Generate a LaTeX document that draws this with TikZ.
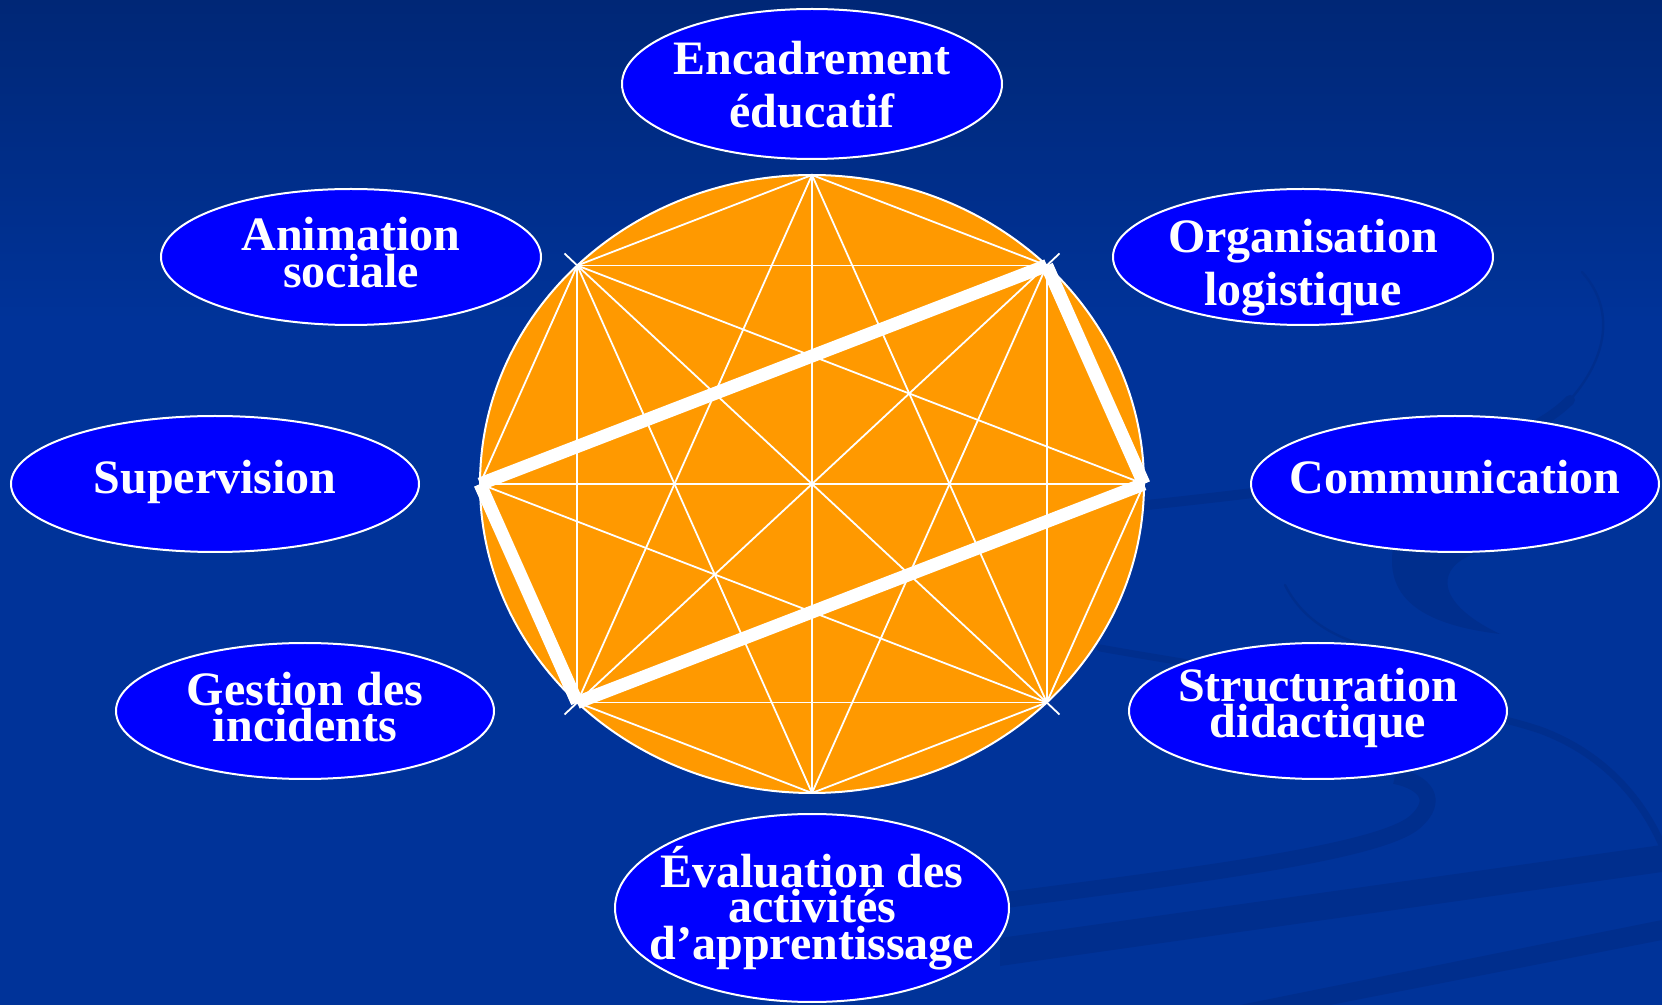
\documentclass[tikz,border=0pt]{standalone}
\usepackage{fontspec}
\setmainfont{Liberation Serif}
\usetikzlibrary{shapes.geometric}
\definecolor{bg}{RGB}{0,51,153}
\definecolor{bgtop}{RGB}{0,39,118}
\definecolor{swirl}{RGB}{0,46,141}
\definecolor{pillblue}{RGB}{0,0,255}
\definecolor{discorange}{RGB}{255,153,0}
\begin{document}
\begin{tikzpicture}[x=0.5pt,y=-0.5pt,
  pill/.style={ellipse, draw=white, line width=1pt, fill=pillblue, inner sep=0pt},
  lbl/.style={text=white, font=\fontsize{24}{28}\selectfont\bfseries, inner sep=0pt, anchor=base},
  thinline/.style={white, line width=0.9pt},
  thickline/.style={white, line width=6.5pt, line cap=butt},
  swirlband/.style={draw=swirl, line cap=round},
]
% background
\path[use as bounding box] (0,0) rectangle (1662,1005);
\fill[bg] (0,0) rectangle (1662,1005);
\shade[top color=bgtop, bottom color=bg] (0,0) rectangle (1662,320);

% background swirls
\draw[swirlband, line width=5pt] (1120,508) .. controls (1300,488) and (1500,470) .. (1570,400);
\draw[swirlband, line width=1.2pt] (1570,400) .. controls (1612,352) and (1612,305) .. (1582,272);
\fill[swirl] (1393,548) .. controls (1385,600) and (1425,625) .. (1500,634)
  .. controls (1460,615) and (1440,592) .. (1450,572)
  .. controls (1458,558) and (1475,552) .. (1495,550) -- cycle;
\draw[swirlband, line width=1.2pt] (1285,585) .. controls (1300,615) and (1330,640) .. (1385,650);
\draw[swirlband, line width=3.5pt] (1100,648) .. controls (1250,675) and (1450,700) .. (1540,730)
  .. controls (1600,752) and (1640,795) .. (1662,845);
\draw[swirlband, line width=8pt, line cap=butt] (990,902) .. controls (1200,875) and (1380,852) .. (1415,822)
  .. controls (1440,800) and (1425,782) .. (1395,776);
\fill[swirl] (1000,938) -- (1662,845) -- (1662,872) -- (1000,966) -- cycle;
\fill[swirl] (1240,1005) -- (1662,920) -- (1662,940) -- (1330,1005) -- cycle;

% central disc
\node[ellipse, draw=white, line width=1pt, fill=discorange, inner sep=0pt,
      minimum width=332pt, minimum height=309pt] (disc) at (812,484) {};
\foreach \k in {0,...,7}
  \coordinate (v\k) at ({812+332*cos(45*\k)},{484-309*sin(45*\k)});
\foreach \a/\b in {2/3,2/1,3/4,5/6,6/7,7/0,3/1,5/7,4/0,3/5,1/7,2/6,3/7,1/5,2/5,2/7,6/3,6/1,4/7,0/3}
  \draw[thinline] (v\a) -- (v\b);
\foreach \k in {1,3,5,7} {
  \coordinate (t\k) at ({812+350*cos(45*\k)},{484-326*sin(45*\k)});
  \draw[thinline] (v\k) -- (t\k);
}
\draw[thickline] (v4) -- (v1);
\draw[thickline] (v1) -- (v0);
\draw[thickline] (v0) -- (v5);
\draw[thickline] (v5) -- (v4);

% satellite ellipses
\node[pill, minimum width=190pt, minimum height=75pt] (enc) at (812,84) {};
\node[pill, minimum width=190pt, minimum height=68pt] (anim) at (351,257) {};
\node[pill, minimum width=190pt, minimum height=68pt] (orga) at (1303,257) {};
\node[pill, minimum width=204pt, minimum height=68pt] (superv) at (215,484) {};
\node[pill, minimum width=204pt, minimum height=68pt] (comm) at (1455,484) {};
\node[pill, minimum width=189pt, minimum height=68pt] (gest) at (305,711) {};
\node[pill, minimum width=189pt, minimum height=68pt] (struct) at (1318,711) {};
\node[pill, minimum width=197pt, minimum height=94pt] (eval) at (812,908) {};

% labels
\node[lbl] (enc1) at (812,75) {Encadrement};
\node[lbl] (enc2) at (812,128) {éducatif};
\node[lbl] (anim1) at (351,251) {Animation};
\node[lbl] (anim2) at (351,288) {sociale};
\node[lbl] (orga1) at (1303,253) {Organisation};
\node[lbl] (orga2) at (1303,306) {logistique};
\node[lbl] (superv1) at (215,494) {Supervision};
\node[lbl] (comm1) at (1455,494) {Communication};
\node[lbl] (gest1) at (305,706) {Gestion des};
\node[lbl] (gest2) at (305,742) {incidents};
\node[lbl] (struct1) at (1318,702) {Structuration};
\node[lbl] (struct2) at (1318,738) {didactique};
\node[lbl] (eval1) at (812,887) {Évaluation des};
\node[lbl] (eval2) at (812,922) {activités};
\node[lbl] (eval3) at (812,959) {d’apprentissage};
\end{tikzpicture}
\end{document}
